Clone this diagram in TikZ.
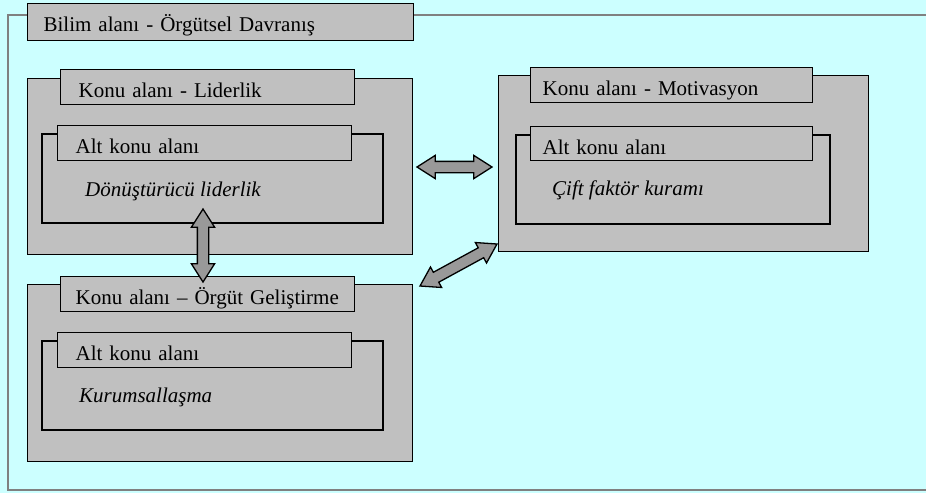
\documentclass[tikz,border=0pt]{standalone}
\usepackage{fontspec}
\setmainfont{Liberation Serif}
\usetikzlibrary
  {
    shapes.arrows,            % fat double arrows between the areas
    calc,                     % midpoints, angles and lengths
  }
\definecolor{sky}{HTML}{CCFFFF}
\definecolor{boxgray}{HTML}{C0C0C0}
\definecolor{linkgray}{HTML}{999999}
\definecolor{framegray}{HTML}{808080}

\begin{document}
\begin{tikzpicture}
    [
      x=1pt, y=-1pt,
      every node/.style={font=\fontsize{21}{25}\selectfont},
      area/.style=
        {
          draw,
          fill=boxgray,
          line width=1pt,
          anchor=north west,
          inner sep=0pt,
        },
      subarea/.style={area, line width=1.8pt},
      heading/.style=
        {
          draw,
          fill=boxgray,
          line width=1.2pt,
          anchor=north west,
          align=left,
          inner xsep=18pt,
          text width=258pt,
          text height=21pt,
          text depth=0pt,
          minimum height=35pt,
        },
      topic/.style=
        {
          anchor=base west,
          inner sep=0pt,
          font=\fontsize{21}{25}\selectfont\itshape,
        },
      link/.style=
        {
          double arrow,
          draw,
          line width=1.3pt,
          fill=linkgray,
          inner sep=5pt,
          double arrow head extend=6pt,
          double arrow tip angle=65,
        },
    ]
    \useasboundingbox[fill=sky] (0,0) rectangle (926,493);
    \draw[framegray, line width=2.5pt] (940,15) -- (8,15) -- (8,490) -- (940,490);
    \node[heading, inner xsep=16pt, text width=354pt, text height=19pt, minimum height=37pt]
      (bilim) at (27,3) {Bilim alanı - Örgütsel Davranış};

    % Liderlik
    \node[area, minimum width=385pt, minimum height=176pt] (lider) at (27,78) {};
    \node[heading] (lider title) at (60,69) {Konu alanı - Liderlik};
    \node[subarea, minimum width=341pt, minimum height=89pt] (lider sub) at (41,133) {};
    \node[heading] (lider subtitle) at (57,125) {Alt konu alanı};
    \node[topic] (lider topic) at (85,196) {Dönüştürücü liderlik};

    % Örgüt Geliştirme
    \node[area, minimum width=385pt, minimum height=177pt] (orgut) at (27,284) {};
    \node[heading, inner xsep=15pt, text width=264pt] (orgut title) at (60,276) {Konu alanı – Örgüt Geliştirme};
    \node[subarea, minimum width=341pt, minimum height=89pt] (orgut sub) at (41,340) {};
    \node[heading] (orgut subtitle) at (57,332) {Alt konu alanı};
    \node[topic] (orgut topic) at (79,402) {Kurumsallaşma};

    % Motivasyon
    \node[area, minimum width=370pt, minimum height=176pt] (motiv) at (498,75) {};
    \node[heading, inner xsep=12pt, text width=258pt] (motiv title) at (530,67) {Konu alanı - Motivasyon};
    \node[subarea, minimum width=314pt, minimum height=89pt] (motiv sub) at (515,134) {};
    \node[heading, inner xsep=12pt, text width=258pt, minimum height=34pt] (motiv subtitle) at (530,126) {Alt konu alanı};
    \node[topic] (motiv topic) at (552,195) {Çift faktör kuramı};

    % links
    \coordinate (lider end) at (203,209);
    \coordinate (orgut end) at (203,282);
    \coordinate (lider side) at (417,167);
    \coordinate (motiv side) at (492,167);
    \coordinate (orgut corner) at (420,286);
    \coordinate (motiv corner) at (497,244);
    \path let \p1=($(orgut end)-(lider end)$), \n1={atan2(\y1,\x1)}, \n2={veclen(\x1,\y1)} in
      node[link, minimum height=\n2, rotate=\n1] (link lo) at ($(lider end)!0.5!(orgut end)$) {};
    \path let \p1=($(motiv side)-(lider side)$), \n1={atan2(\y1,\x1)}, \n2={veclen(\x1,\y1)} in
      node[link, minimum height=\n2, rotate=\n1] (link lm) at ($(lider side)!0.5!(motiv side)$) {};
    \path let \p1=($(motiv corner)-(orgut corner)$), \n1={atan2(\y1,\x1)}, \n2={veclen(\x1,\y1)} in
      node[link, minimum height=\n2, rotate=\n1] (link om) at ($(orgut corner)!0.5!(motiv corner)$) {};
\end{tikzpicture}
\end{document}
